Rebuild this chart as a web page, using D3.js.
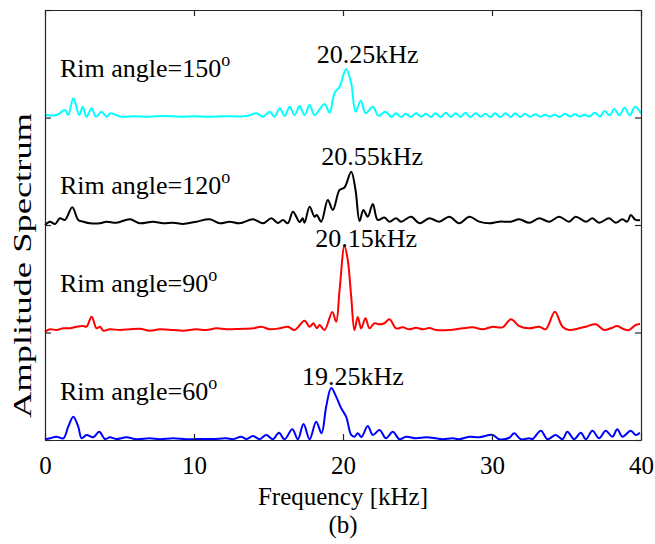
<!DOCTYPE html>
<html><head><meta charset="utf-8">
<script src="https://cdn.jsdelivr.net/npm/d3@7/dist/d3.min.js"></script>
<style>html,body{margin:0;padding:0;background:#fff}</style>
</head><body>
<svg id="c" width="655" height="544"></svg>
<script>
// ---- data ----
const xTicks = [0, 10, 20, 30, 40];
const yTicks = [0, 1, 2, 3, 4];
const seriesNames = ["Rim angle=60", "Rim angle=90", "Rim angle=120", "Rim angle=150"];
const seriesOffsets = [0, 1, 2, 3];
const peakLabels = ["19.25kHz", "20.15kHz", "20.55kHz", "20.25kHz"];
const peakFreqs = [19.25, 20.15, 20.55, 20.25];

const freq60 = [0,0.335,0.78,1.23,1.56,1.9,2.23,2.46,2.79,3.24,3.64,4.02,4.36,4.8,5.47,6.14,7.04,7.71,8.6,9.49,10.16,11.28,12.17,12.62,13.18,13.51,13.96,14.4,14.85,15.3,15.7,16.08,16.6,16.97,17.35,17.76,18.2,18.56,18.87,19.21,19.54,19.88,20.21,20.55,20.77,20.99,21.24,21.66,22.0,22.45,22.89,23.34,23.79,24.23,24.9,25.57,26.24,26.69,27.36,27.8,28.48,29.15,30.04,30.49,31.16,31.49,31.94,32.5,32.72,33.28,33.72,34.28,34.73,35.06,35.51,35.96,36.3,36.74,37.19,37.63,38.08,38.41,38.75,39.31,39.64,39.93];
const amp60 = [0.007,0.016,0.031,0.016,0.124,0.217,0.124,0.016,0.047,0.025,0.077,0.009,0.025,0.009,0.025,0.007,0.016,0.007,0.016,0.007,0.009,0.009,0.016,0.007,0.031,0.009,0.037,0.007,0.047,0.007,0.068,0.007,0.1,0.007,0.149,0.007,0.17,0.062,0.31,0.484,0.403,0.295,0.217,0.047,0.031,0.062,0.028,0.13,0.047,0.093,0.016,0.077,0.007,0.031,0.016,0.025,0.016,0.007,0.016,0.007,0.031,0.025,0.047,0.007,0.021,0.062,0.007,0.016,0.009,0.087,0.007,0.047,0.007,0.077,0.007,0.068,0.007,0.087,0.016,0.087,0.031,0.1,0.031,0.087,0.047,0.068];

const freq90 = [0,0.335,0.78,1.23,1.68,2.12,2.57,2.79,3.13,3.46,3.69,3.91,4.35,5.03,5.7,6.37,7.04,7.71,8.6,9.27,10.16,10.83,11.5,12.17,13.06,13.96,14.52,15.08,15.75,16.3,16.75,17.42,17.76,18.02,18.24,18.43,18.76,19.28,19.54,19.77,20.1,20.32,20.55,20.77,20.99,21.22,21.51,21.78,22.11,22.45,22.78,23.12,23.56,24.0,24.46,24.9,25.35,25.8,26.24,27.14,28.03,28.7,29.37,30.04,30.71,31.27,31.83,32.5,33.17,33.61,34.22,34.73,35.18,35.85,36.3,36.97,37.52,37.97,38.41,38.86,39.2,39.64,39.93];
const amp90 = [0.007,0.03,0.023,0.039,0.039,0.054,0.06,0.054,0.147,0.039,0.054,0.017,0.03,0.023,0.03,0.035,0.017,0.03,0.023,0.017,0.03,0.023,0.039,0.03,0.033,0.039,0.054,0.03,0.039,0.054,0.023,0.11,0.054,0.086,0.039,0.07,0.023,0.19,0.1,0.395,0.805,0.674,0.333,0.023,0.144,0.039,0.132,0.039,0.086,0.076,0.086,0.123,0.039,0.048,0.03,0.045,0.03,0.042,0.023,0.023,0.039,0.048,0.03,0.054,0.048,0.123,0.06,0.039,0.054,0.03,0.193,0.054,0.023,0.039,0.054,0.076,0.023,0.039,0.06,0.03,0.023,0.07,0.079];

const freq120 = [0,0.335,0.67,1.0,1.34,1.83,2.23,2.57,3.02,3.69,4.13,4.8,5.7,6.37,7.24,7.93,8.6,9.27,10.16,11.06,11.73,12.4,13.06,13.96,14.63,15.19,15.63,15.97,16.3,16.64,17.09,17.29,17.42,17.76,18.09,18.24,18.54,18.98,19.32,19.77,20.1,20.55,20.84,21.11,21.37,21.66,22.0,22.33,22.78,23.12,23.56,23.9,24.57,25.13,25.8,26.46,27.14,27.8,28.48,29.14,29.82,30.49,31.27,31.83,32.5,33.17,33.84,34.5,35.18,35.62,36.3,36.74,37.19,37.86,38.3,38.75,39.08,39.31,39.64,39.93];
const amp120 = [0,0.031,0.01,0.062,0.047,0.165,0.047,0.031,0.016,0.016,0.031,0.021,0.053,0.016,0.031,0.016,0.021,0.01,0.031,0.053,0.016,0.031,0.016,0.053,0.016,0.062,0.019,0.047,0.016,0.124,0.028,0.062,0.021,0.17,0.077,0.093,0.031,0.233,0.14,0.326,0.349,0.496,0.326,0.037,0.14,0.077,0.195,0.047,0.07,0.031,0.062,0.031,0.077,0.016,0.062,0.031,0.077,0.016,0.077,0.031,0.016,0.031,0.031,0.053,0.021,0.062,0.031,0.077,0.031,0.077,0.031,0.062,0.021,0.062,0.021,0.053,0.031,0.093,0.047,0.047];

const freq150 = [0,0.78,1.34,1.56,1.9,2.3,2.53,2.79,3.13,3.42,3.8,4.13,4.4,5.03,6,7,8,9,10,11,12,13,13.6,14.18,14.63,15.08,15.41,15.75,16.08,16.42,16.75,17.09,17.42,17.76,18.09,18.76,19.1,19.43,19.77,20.21,20.55,20.84,21.19,21.52,22.0,22.38,22.85,23.25,23.55,23.9,24.2,24.55,24.9,25.25,25.55,25.9,26.2,26.55,26.9,27.25,27.55,27.9,28.2,28.55,28.9,29.25,29.55,29.9,30.2,30.55,30.9,31.25,31.55,31.9,32.2,32.55,32.9,33.25,33.55,33.9,34.2,34.55,34.9,35.25,35.55,35.9,36.2,36.55,36.9,37.25,37.55,37.9,38.2,38.55,38.9,39.25,39.6,40];
const amp150 = [0.023,0.023,0.07,0.023,0.18,0.023,0.1,0.007,0.085,0.007,0.054,0.007,0.04,0.01,0.012,0.008,0.015,0.008,0.012,0.008,0.012,0.01,0.015,0.04,0.007,0.054,0.007,0.085,0.014,0.1,0.023,0.107,0.023,0.116,0.023,0.126,0.045,0.228,0.287,0.451,0.32,0.054,0.156,0.04,0.1,0.017,0.054,0.005,0.04,0.005,0.035,0.005,0.04,0.008,0.035,0.005,0.04,0.005,0.045,0.005,0.04,0.005,0.045,0.005,0.04,0.008,0.035,0.005,0.04,0.005,0.04,0.005,0.04,0.005,0.035,0.008,0.03,0.008,0.025,0.008,0.025,0.005,0.035,0.01,0.03,0.01,0.025,0.01,0.045,0.01,0.06,0.02,0.08,0.02,0.09,0.02,0.1,0.04];

const seriesFreqs = [freq60, freq90, freq120, freq150];
const seriesAmps = [amp60, amp90, amp120, amp150];
const seriesColors = ["#0000ff", "#ff0000", "#000000", "#00ffff"];

// ---- layout ----
const W = 655, H = 544;
const m = {left: 45, right: 14, top: 10, bottom: 104};
const x = d3.scaleLinear().domain([0, 40]).range([m.left, W - m.right]);
const y = d3.scaleLinear().domain([0, 4]).range([H - m.bottom, m.top]);
const font = "'Liberation Serif','Times New Roman',serif";
const axisColor = "#262626";

const svg = d3.select("#c");

// lines
const line = d3.line().curve(d3.curveCatmullRom.alpha(0.5));
seriesFreqs.forEach((fs, i) => {
  const pts = fs.map((f, j) => [x(f), y(seriesAmps[i][j] + seriesOffsets[i])]);
  svg.append("path").attr("d", line(pts)).attr("fill", "none")
    .attr("stroke", seriesColors[i]).attr("stroke-width", 2).attr("stroke-linejoin", "round");
});

// axes
const gB = svg.append("g").attr("transform", `translate(0,${y(0)})`)
  .call(d3.axisBottom(x).tickValues(xTicks).tickSizeInner(-6).tickSizeOuter(0).tickPadding(16));
const gT = svg.append("g").attr("transform", `translate(0,${y(4)})`)
  .call(d3.axisTop(x).tickValues(xTicks).tickSizeInner(-6).tickSizeOuter(0).tickFormat(""));
const gL = svg.append("g").attr("transform", `translate(${x(0)},0)`)
  .call(d3.axisLeft(y).tickValues(yTicks).tickSizeInner(-6).tickSizeOuter(0).tickFormat(""));
const gR = svg.append("g").attr("transform", `translate(${x(40)},0)`)
  .call(d3.axisRight(y).tickValues(yTicks).tickSizeInner(-6).tickSizeOuter(0).tickFormat(""));
[gB, gT, gL, gR].forEach(g => {
  g.select(".domain").attr("stroke", axisColor).attr("stroke-width", 1.2);
  g.selectAll(".tick line").attr("stroke", axisColor).attr("stroke-width", 1.2);
});
gB.selectAll(".tick text").attr("font-family", font).attr("font-size", 25).attr("fill", "#000");

// series labels
const labelBaselines = [400, 291.7, 194, 76.7];
seriesNames.forEach((n, i) => {
  const t = svg.append("text").attr("x", 60).attr("y", labelBaselines[i])
    .attr("font-family", font).attr("font-size", 26).attr("fill", "#000");
  t.append("tspan").text(n);
  t.append("tspan").attr("dy", -11).attr("font-size", 18).text("o");
});

// peak labels
const peakBaselines = [385, 247, 165, 63];
peakLabels.forEach((p, i) => {
  svg.append("text").attr("x", x(peakFreqs[i]) + 21).attr("y", peakBaselines[i])
    .attr("text-anchor", "middle").attr("font-family", font).attr("font-size", 26)
    .attr("fill", "#000").text(p);
});

// axis titles
svg.append("text").attr("x", (x(0) + x(40)) / 2).attr("y", 505).attr("text-anchor", "middle")
  .attr("font-family", font).attr("font-size", 25).text("Frequency [kHz]");
svg.append("text").attr("x", (x(0) + x(40)) / 2).attr("y", 533).attr("text-anchor", "middle")
  .attr("font-family", font).attr("font-size", 25).text("(b)");
svg.append("text").attr("transform", `translate(31,265.5) rotate(-90)`)
  .attr("text-anchor", "middle").attr("font-family", font).attr("font-size", 26)
  .attr("textLength", 305).attr("lengthAdjust", "spacingAndGlyphs").text("Amplitude Spectrum");
</script>
</body></html>
